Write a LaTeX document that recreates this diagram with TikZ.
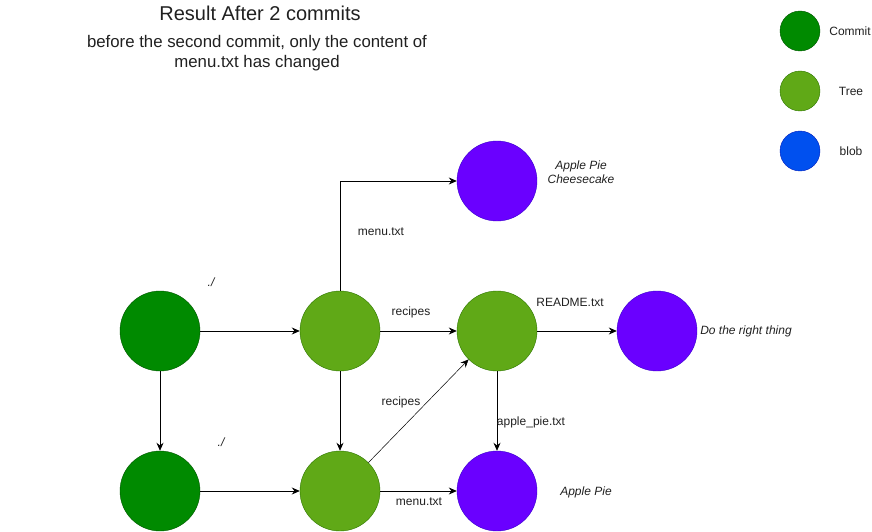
\documentclass[tikz,border=0pt]{standalone}
\usepackage{fontspec}
\setmainfont{Liberation Sans}
\usetikzlibrary{arrows.meta}
\definecolor{cfill}{HTML}{008A00}\definecolor{cstroke}{HTML}{005700}
\definecolor{tfill}{HTML}{60A917}\definecolor{tstroke}{HTML}{2D7600}
\definecolor{bfill}{HTML}{6A00FF}\definecolor{bstroke}{HTML}{3700CC}
\definecolor{lfill}{HTML}{0050EF}\definecolor{lstroke}{HTML}{001DBC}
\definecolor{txt}{HTML}{202020}
\begin{document}
\begin{tikzpicture}[x=1pt,y=-1pt,
  commitnode/.style={circle,fill=cfill,draw=cstroke,minimum size=80pt,inner sep=0pt},
  treenode/.style={circle,fill=tfill,draw=tstroke,minimum size=80pt,inner sep=0pt},
  blobnode/.style={circle,fill=bfill,draw=bstroke,minimum size=80pt,inner sep=0pt},
  lcommit/.style={commitnode,minimum size=40pt},
  ltree/.style={treenode,minimum size=40pt},
  lblob/.style={circle,fill=lfill,draw=lstroke,minimum size=40pt,inner sep=0pt},
  lbl/.style={font=\fontsize{12}{14}\selectfont,text=txt,inner sep=0pt},
  ilbl/.style={lbl,font=\fontsize{12}{14}\selectfont\itshape},
  conn/.style={-{Stealth[length=8pt,width=7pt]},line width=0.8pt},
  thinconn/.style={-{Stealth[length=8pt,width=7pt]},line width=0.5pt}]
\useasboundingbox (0,0) rectangle (872,532);
% title
\node[text=txt,font=\fontsize{20}{23}\selectfont] (title) at (260,13) {Result After 2 commits};
\node[text=txt,font=\fontsize{16.8}{20}\selectfont,align=center] (sub) at (257,53) {before the second commit, only the content of\\menu.txt has changed};
% legend
\node[lcommit] (lc) at (800,31) {};
\node[ltree] (lt) at (800,91) {};
\node[lblob] (lb) at (800,151) {};
\node[lbl] (lct) at (850,31) {Commit};
\node[lbl] (ltt) at (851,91) {Tree};
\node[lbl] (lbt) at (851,151) {blob};
% nodes
\node[commitnode] (c1) at (160,331) {};
\node[commitnode] (c2) at (160,491) {};
\node[treenode] (t1) at (340,331) {};
\node[treenode] (t2) at (340,491) {};
\node[treenode] (t3) at (497,331) {};
\node[blobnode] (b1) at (497,181) {};
\node[blobnode] (b2) at (657,331) {};
\node[blobnode] (b3) at (497,491) {};
% blob texts
\node[ilbl,align=center] (b1t) at (581,172) {Apple Pie\\Cheesecake};
\node[ilbl] (b2t) at (746,331) {Do the right thing};
\node[ilbl] (b3t) at (586,492) {Apple Pie};
% connectors
\draw[conn] (c1) -- (t1);
\draw[conn] (c2) -- (t2);
\draw[conn] (c1) -- (c2);
\draw[conn] (t1) -- (t2);
\draw[conn] (t1) -- (t3);
\draw[conn] (t3) -- (b2);
\draw[conn] (t3) -- (b3);
\draw[conn] (t2) -- (b3);
\draw[conn] (t1.north) |- (b1.west);
\draw[thinconn] (t2.45) -- (t3.225);
% labels
\node[ilbl] (l1) at (211,282) {./};
\node[ilbl] (l2) at (221,442) {./};
\node[lbl] (l3) at (381,232) {menu.txt};
\node[lbl] (l4) at (411,312) {recipes};
\node[lbl] (l5) at (570,302) {README.txt};
\node[lbl] (l6) at (401,402) {recipes};
\node[lbl] (l7) at (531,422) {apple\_pie.txt};
\node[lbl] (l8) at (419,502) {menu.txt};
\end{tikzpicture}
\end{document}
